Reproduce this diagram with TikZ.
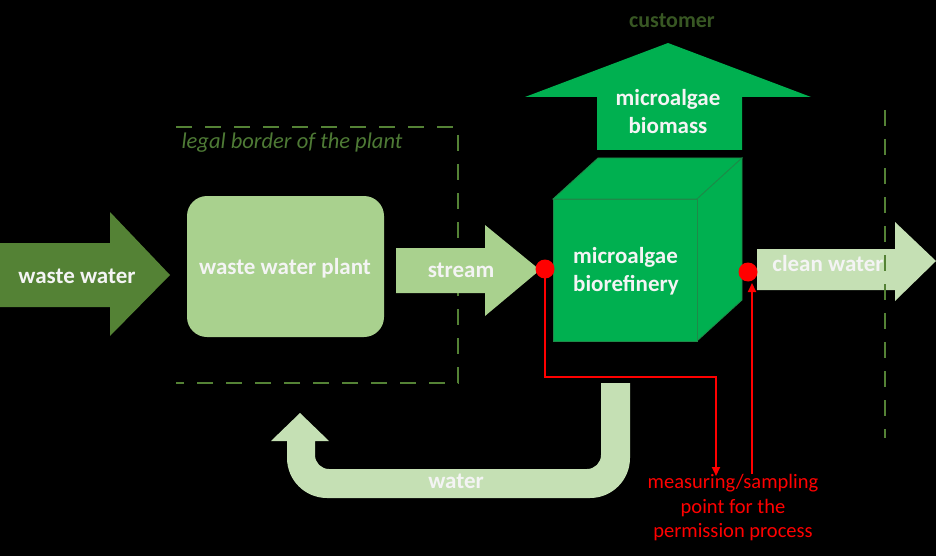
\documentclass[tikz,border=0pt]{standalone}
\usepackage{fontspec}
\setmainfont{Carlito}
\usetikzlibrary{arrows.meta}
\definecolor{darkg}{HTML}{548235}
\definecolor{lightg}{HTML}{A9D18E}
\definecolor{paleg}{HTML}{C5E0B4}
\definecolor{brightg}{HTML}{00B050}
\definecolor{edgeg}{HTML}{1E8A48}
\definecolor{oliveg}{HTML}{385723}
\definecolor{bordertxt}{HTML}{4E7A35}
\definecolor{redc}{HTML}{FF0000}
\definecolor{offwhite}{HTML}{F4F4F4}
\tikzset{
  boldtxt/.style={font=\fontsize{23}{28}\selectfont\bfseries, text=offwhite, inner sep=0pt, align=center},
  bordline/.style={draw=darkg, line width=1.8pt, dash pattern=on 16pt off 13pt},
  redline/.style={draw=redc, line width=1.8pt},
  redtip/.style={-{Triangle[length=9pt,width=8pt]}},
  reddot/.style={circle, fill=redc, minimum size=19pt, inner sep=0pt},
}
\begin{document}
\begin{tikzpicture}[x=1pt,y=-1pt]
\fill[black] (0,0) rectangle (936,556);
\useasboundingbox (0,0) rectangle (936,556);

% waste water arrow
\fill[darkg] (0,243) -- (110,243) -- (110,212) -- (170,275) -- (110,336) -- (110,307) -- (0,307) -- cycle;
\node[boldtxt] (ww) at (77,276) {waste water};

% legal border
\draw[bordline] (176,127) -- (458,127) -- (458,383) -- (176,383);
\node[font=\fontsize{22.5}{26}\selectfont\itshape, text=bordertxt, inner sep=0pt] (legal) at (292,143) {legal border of the plant};

% waste water plant
\fill[lightg, rounded corners=20pt] (187,196) rectangle (384,337);
\node[boldtxt] (wwp) at (285,268) {waste water plant};

% stream arrow
\fill[lightg] (396,248) -- (485,248) -- (485,225) -- (540,270) -- (485,316) -- (485,293) -- (396,293) -- cycle;
\node[boldtxt] (stream) at (461,270) {stream};

% biomass arrow
\fill[brightg] (597,150) -- (597,97) -- (525,97) -- (668,43) -- (811,97) -- (742,97) -- (742,150) -- cycle;
\node[boldtxt] (biomass) at (668,112) {microalgae\\biomass};
\node[font=\fontsize{22}{26}\selectfont\bfseries, text=oliveg, inner sep=0pt] (customer) at (672,21) {customer};

% cube
\filldraw[fill=brightg, draw=edgeg, line width=0.8pt] (553,199) -- (598,158) -- (742,158) -- (697,199) -- cycle;
\filldraw[fill=brightg, draw=edgeg, line width=0.8pt] (697,199) -- (742,158) -- (742,300) -- (697,341) -- cycle;
\filldraw[fill=brightg, draw=edgeg, line width=0.8pt] (553,199) rectangle (697,341);
\node[boldtxt, align=left, anchor=west] (bioref) at (573,271) {microalgae\\biorefinery};

% clean water arrow
\fill[paleg] (757,249) -- (895,249) -- (895,222) -- (936,261) -- (895,301) -- (895,290) -- (757,290) -- cycle;
\node[boldtxt] (clean) at (828,264) {clean water};

% right dashed border
\draw[bordline] (885,110) -- (885,438);

% water return arrow
\fill[paleg] (630,383) -- (630,458) arc (0:90:40) -- (327,498) arc (90:180:40) -- (287,441) -- (271,441) -- (300,413) -- (329,441) -- (315,441) -- (315,455) arc (180:90:14) -- (587,469) arc (90:0:14) -- (601,383) -- cycle;
\node[boldtxt] (water) at (456,481) {water};

% red measuring points
\node[reddot] (dot1) at (545,269) {};
\node[reddot] (dot2) at (748,272) {};
\node[font=\fontsize{20.5}{24.5}\selectfont, text=redc, inner sep=0pt, align=center] (meas) at (733,508) {measuring/sampling\\point for the\\permission process};
\coordinate (m1) at (716,476);
\coordinate (m2) at (752,474);
\draw[redline, redtip] (dot1.center) -- (545,377) -- (716,377) -- (m1);
\draw[redline, redtip] (m2) -- (752,283);
\end{tikzpicture}
\end{document}
